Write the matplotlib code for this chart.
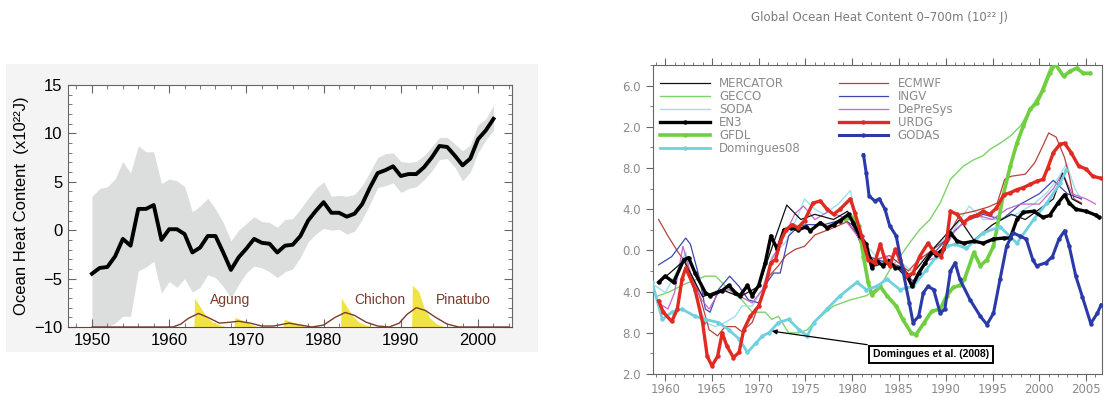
import numpy as np
import matplotlib
matplotlib.use("Agg")
import matplotlib.pyplot as plt
from matplotlib.patches import Rectangle
from matplotlib.ticker import MultipleLocator

# ---------------- left panel: annual ocean heat content ----------------
ohc_years = np.arange(1950, 2003)
ohc_vals = [-4.5, -3.9, -3.8, -2.7, -0.9, -1.6, 2.2, 2.2, 2.6, -1.0,
            0.1, 0.1, -0.4, -2.3, -1.8, -0.6, -0.6, -2.3, -4.1, -2.8,
            -1.9, -0.9, -1.3, -1.4, -2.3, -1.6, -1.5, -0.6, 1.0, 2.0,
            2.9, 1.8, 1.8, 1.4, 1.7, 2.7, 4.4, 5.9, 6.2, 6.6,
            5.6, 5.8, 5.8, 6.5, 7.5, 8.7, 8.6, 7.7, 6.7, 7.4,
            9.4, 10.3, 11.5]
ohc_upper = [3.5, 4.3, 4.5, 5.3, 7.1, 5.9, 8.7, 8.1, 8.1, 4.8,
             5.3, 5.1, 4.5, 1.9, 2.5, 3.3, 2.2, 0.8, -1.1, 0.0,
             0.7, 1.4, 0.9, 0.8, 0.3, 1.1, 1.2, 2.2, 3.3, 4.3,
             5.0, 3.5, 3.6, 3.5, 3.7, 4.6, 6.0, 7.5, 7.9, 8.0,
             7.1, 7.0, 7.1, 7.7, 8.6, 9.6, 9.6, 8.9, 8.2, 8.8,
             10.9, 11.5, 12.9]
ohc_lower = [-10.0, -10.0, -10.0, -9.6, -8.9, -8.9, -4.2, -3.8, -3.2, -6.5,
             -5.3, -5.9, -5.0, -6.4, -5.9, -4.6, -4.9, -5.8, -7.0, -5.6,
             -4.4, -3.7, -3.9, -4.3, -4.9, -4.3, -4.0, -2.8, -1.2, -0.4,
             0.2, 0.0, 0.1, -0.4, -0.1, 1.1, 2.7, 4.4, 4.6, 4.9,
             3.9, 4.3, 4.5, 5.2, 6.1, 7.3, 7.4, 6.5, 5.1, 6.0,
             8.0, 9.3, 10.3]

# volcanic aerosol spikes (yellow) and smoothed forcing (brown)
volc_years = [1950, 1963.2, 1963.3, 1964.0, 1964.8, 1965.6, 1966.6, 1967.5,
              1968.4, 1968.5, 1969.5, 1970.5, 1971.5,
              1974.8, 1974.9, 1976.0, 1977.0, 1978.0,
              1982.2, 1982.3, 1983.0, 1983.8, 1984.6, 1985.5, 1986.5,
              1991.4, 1991.5, 1992.3, 1993.0, 1993.8, 1994.7, 1995.8, 2004]
volc_vals = [-10, -10, -7.0, -7.9, -8.9, -9.5, -9.8, -10,
             -10, -9.0, -9.3, -9.7, -10,
             -10, -9.2, -9.5, -9.8, -10,
             -10, -7.0, -7.9, -8.9, -9.5, -9.8, -10,
             -10, -5.7, -6.3, -8.0, -9.1, -9.7, -10, -10]
smooth_years = [1950, 1960.5, 1961.5, 1962.5, 1963.8, 1965.0, 1966.5, 1968.0, 1969.0, 1970.5,
                1972.0, 1973.5, 1975.5, 1977.0, 1978.5, 1980.0, 1981.5, 1982.8, 1984.0, 1985.5,
                1987.0, 1988.5, 1989.8, 1990.8, 1992.0, 1993.2, 1994.5, 1996.0, 1997.5, 2004]
smooth_vals = [-10, -10, -9.7, -9.1, -8.6, -9.0, -9.6, -9.5, -9.4, -9.6,
               -9.9, -9.9, -9.6, -9.8, -10, -9.8, -9.0, -8.5, -8.8, -9.5,
               -9.9, -10, -9.6, -8.7, -8.0, -8.3, -9.0, -9.7, -10, -10]
volc_names = ["Agung", "Chichon", "Pinatubo"]
volc_label_x = [1967.9, 1987.3, 1998.1]

# ---------------- right panel: 0-700m OHC estimates ----------------
mercator_yrs = [1959.5, 1962.0, 1964.0, 1966.0, 1968.0, 1970.0, 1971.5, 1973.0, 1974.5, 1976.0,
                1978.0, 1979.5, 1981.0, 1982.5, 1984.0, 1986.0, 1988.0, 1990.0, 1991.5, 1993.0,
                1995.0, 1997.0, 1998.5, 2000.0, 2001.5, 2002.5, 2003.5, 2004.5]
mercator_val = [-3.0, -1.0, -4.5, -3.8, -4.5, -3.5, 0.5, 4.4, 3.0, 3.5,
                3.0, 3.8, 1.0, -1.5, -1.0, -2.8, -0.5, 1.5, 3.0, 1.0,
                2.5, 3.5, 3.0, 4.0, 5.0, 7.5, 5.0, 4.5]

gecco_yrs = [1959.0, 1960.5, 1962.0, 1964.3, 1965.4, 1966.8, 1968.2, 1969.3, 1970.7, 1971.4,
             1972.1, 1973.2, 1974.3, 1975.2, 1976.2, 1978.0, 1979.8, 1981.5, 1983.0, 1984.0,
             1985.1, 1986.2, 1987.2, 1988.3, 1989.4, 1990.5, 1991.9, 1993.0, 1994.0, 1994.7,
             1995.8, 1996.9, 1998.0, 1999.0, 2000.1, 2000.8, 2001.5]
gecco_val = [-4.5, -4.0, -3.3, -2.5, -2.5, -3.8, -4.8, -6.0, -6.0, -6.7,
             -6.4, -8.0, -8.0, -7.7, -6.7, -5.4, -4.8, -4.4, -3.5, -1.9,
             -0.6, 0.8, 2.0, 3.0, 4.6, 6.9, 8.2, 8.8, 9.2, 9.8,
             10.4, 11.1, 12.1, 13.7, 15.3, 16.9, 18.5]

soda_yrs = [1958.9, 1960.0, 1961.0, 1962.2, 1963.2, 1964.3, 1965.4, 1966.4, 1967.5, 1968.2,
            1969.3, 1970.4, 1971.4, 1972.9, 1974.3, 1974.9, 1976.0, 1977.0, 1978.5, 1979.8,
            1981.0, 1983.0, 1985.0, 1987.0, 1989.0, 1990.5, 1992.5, 1994.0, 1995.5, 1997.5,
            1999.4, 2000.8, 2002.0, 2002.9, 2003.8, 2004.5]
soda_val = [-3.4, -4.1, -2.5, -0.2, -4.4, -7.0, -7.4, -7.0, -6.4, -5.4,
            -5.4, -3.8, -0.6, 0.8, 3.6, 5.0, 4.0, 3.5, 4.5, 5.8,
            1.0, -1.0, -1.0, -2.5, 0.5, 1.5, 4.3, 3.0, 3.0, 3.5,
            4.5, 5.6, 7.0, 8.4, 6.0, 4.9]

en3_yrs = [1959.3, 1960.0, 1960.9, 1962.0, 1962.5, 1963.2, 1964.3, 1964.8, 1966.1, 1966.8,
           1967.5, 1968.0, 1968.8, 1969.3, 1970.0, 1970.7, 1971.3, 1972.0, 1972.7, 1973.5,
           1974.2, 1975.1, 1975.5, 1976.6, 1977.3, 1978.0, 1978.7, 1979.6, 1980.1, 1980.8,
           1981.5, 1982.1, 1982.6, 1983.3, 1983.9, 1984.6, 1985.3, 1985.8, 1986.4, 1987.1,
           1987.8, 1988.5, 1989.0, 1989.7, 1990.5, 1991.2, 1991.9, 1993.0, 1994.0, 1995.1,
           1996.2, 1996.9, 1997.6, 1998.3, 1999.4, 2000.4, 2001.1, 2002.0, 2002.7, 2003.2,
           2003.9, 2005.0, 2006.1, 2006.4]
en3_val = [-3.1, -2.5, -3.1, -0.9, -0.7, -2.2, -4.1, -4.4, -3.9, -3.4,
           -4.1, -4.4, -3.4, -4.4, -3.4, -1.2, 1.4, 0.1, 2.0, 2.2,
           2.0, 2.3, 1.9, 2.7, 2.2, 2.5, 2.9, 3.5, 2.7, 1.4,
           0.6, -1.7, -1.0, -1.5, -1.0, -1.7, -1.7, -2.3, -3.5, -2.2,
           -1.2, -0.2, -0.4, 0.1, 1.7, 0.9, 0.7, 0.9, 0.7, 1.1,
           1.2, 1.2, 3.0, 3.7, 3.8, 3.2, 3.4, 4.6, 5.4, 4.6,
           4.0, 3.8, 3.4, 3.2]

gfdl_yrs = [1978.7, 1980.1, 1980.7, 1981.2, 1981.7, 1982.1, 1983.0, 1983.7, 1984.7, 1985.4,
            1986.3, 1986.8, 1987.7, 1988.5, 1989.4, 1990.1, 1990.8, 1991.5, 1992.0, 1993.0,
            1993.7, 1994.4, 1995.1, 1996.2, 1996.9, 1997.6, 1998.3, 1999.0, 1999.7, 2000.4,
            2001.1, 2001.7, 2002.6, 2003.3, 2004.0, 2004.7, 2005.4]
gfdl_val = [2.9, 3.2, 2.4, -0.6, -3.1, -4.3, -3.5, -4.4, -5.4, -6.7,
            -8.0, -8.2, -7.0, -5.9, -5.7, -4.4, -3.6, -3.4, -2.8, -0.2,
            -1.5, -0.9, 0.4, 5.6, 8.2, 10.4, 12.1, 13.7, 14.3, 15.6,
            17.2, 18.1, 16.9, 17.4, 17.7, 17.2, 17.2]

dom_yrs = [1958.6, 1959.7, 1960.7, 1961.8, 1963.2, 1964.3, 1965.7, 1966.8, 1967.9, 1968.8,
           1969.7, 1970.4, 1971.1, 1972.1, 1973.2, 1974.3, 1975.2, 1975.9, 1977.3, 1978.7,
           1980.5, 1981.5, 1982.6, 1983.7, 1985.1, 1986.5, 1987.9, 1989.0, 1990.1, 1991.0,
           1992.2, 1994.0, 1995.8, 1997.6, 1999.4, 2000.8, 2002.2, 2002.9]
dom_val = [-3.1, -6.7, -6.0, -5.7, -6.4, -6.7, -7.0, -7.7, -8.6, -9.9,
           -9.0, -8.3, -8.0, -7.0, -6.7, -7.7, -8.3, -7.0, -5.7, -4.4,
           -3.1, -3.8, -3.5, -2.8, -3.8, -3.5, -1.9, -0.6, 0.4, 0.6,
           0.2, 1.7, 2.3, 0.7, 3.0, 4.6, 6.5, 7.8]

ecmwf_yrs = [1959.3, 1960.3, 1961.4, 1962.2, 1963.2, 1964.0, 1964.7, 1965.6, 1966.4, 1967.5,
             1968.2, 1969.3, 1970.4, 1971.1, 1972.1, 1972.9, 1973.9, 1974.9, 1976.0, 1978.0,
             1979.5, 1980.5, 1982.0, 1984.0, 1986.0, 1987.0, 1988.5, 1990.0, 1991.5, 1993.0,
             1994.5, 1995.5, 1996.3, 1997.0, 1998.5, 1999.5, 2000.3, 2001.0, 2001.8, 2002.7,
             2003.2, 2003.7, 2004.5]
ecmwf_val = [3.0, 1.4, -0.2, -1.2, -3.1, -5.4, -7.7, -8.3, -7.4, -7.4,
             -7.9, -7.0, -4.4, -2.5, -1.5, -0.5, 0.1, 0.4, 1.5, 2.2,
             2.8, 1.5, -1.0, -0.5, -2.0, -1.0, 0.0, 1.0, 3.5, 3.8,
             4.2, 4.6, 6.9, 7.2, 7.4, 8.5, 10.0, 11.4, 11.0, 9.0,
             7.2, 5.0, 4.6]

ingv_yrs = [1959.3, 1960.7, 1962.2, 1962.7, 1963.7, 1964.3, 1964.8, 1965.7, 1966.9, 1967.9,
            1968.9, 1970.0, 1970.9, 1971.6, 1972.3, 1973.2, 1974.3, 1975.2, 1977.0, 1979.0,
            1980.0, 1981.5, 1983.0, 1985.0, 1986.5, 1988.0, 1990.0, 1992.0, 1994.0, 1996.0,
            1998.0, 2000.0, 2001.5, 2003.0, 2004.5]
ingv_val = [-1.4, -0.6, 1.2, 0.6, -2.8, -5.7, -6.0, -3.8, -2.5, -3.5,
            -4.8, -5.1, -3.1, -2.2, -2.2, 1.4, 2.4, 2.5, 2.5, 3.0,
            2.5, -0.5, -1.0, -1.5, -3.0, -1.0, 1.0, 2.8, 3.5, 3.0,
            4.5, 5.5, 6.8, 5.5, 5.0]

depresys_yrs = [1959.3, 1960.3, 1961.0, 1961.9, 1962.8, 1963.9, 1964.7, 1965.7, 1966.8, 1967.9,
                1969.3, 1970.4, 1971.4, 1972.9, 1973.9, 1974.8, 1976.0, 1977.5, 1979.0, 1980.5,
                1982.0, 1983.5, 1985.0, 1986.5, 1988.0, 1989.5, 1991.0, 1993.0, 1995.0, 1996.5,
                1998.0, 2000.0, 2001.5, 2002.5, 2003.5, 2005.0, 2006.0]
depresys_val = [-5.1, -5.7, -4.1, 0.4, -2.5, -4.8, -5.7, -4.1, -3.8, -4.4,
                -5.1, -3.8, -0.9, 1.7, 3.6, 4.3, 3.0, 3.8, 3.2, 1.5,
                -1.5, -0.5, -1.8, -3.5, -1.0, -0.5, 2.0, 3.5, 3.0, 4.0,
                4.5, 4.5, 6.0, 7.5, 5.5, 5.0, 4.5]

urdg_yrs = [1959.3, 1959.8, 1960.7, 1961.3, 1961.8, 1962.2, 1963.2, 1964.0, 1964.5, 1965.0,
            1965.6, 1966.1, 1966.6, 1967.3, 1967.9, 1968.4, 1969.1, 1970.0, 1970.7, 1971.3,
            1971.8, 1972.3, 1972.9, 1973.6, 1974.2, 1974.9, 1975.8, 1976.6, 1977.3, 1978.0,
            1978.7, 1979.8, 1980.3, 1981.0, 1981.7, 1982.4, 1983.0, 1983.5, 1984.0, 1984.6,
            1985.1, 1985.8, 1986.5, 1987.2, 1988.1, 1988.8, 1989.5, 1990.1, 1990.5, 1991.2,
            1991.9, 1992.6, 1993.3, 1994.0, 1994.7, 1995.4, 1996.2, 1996.9, 1997.6, 1998.3,
            1999.0, 1999.7, 2000.4, 2000.9, 2001.5, 2002.2, 2002.7, 2003.4, 2004.2, 2005.0,
            2005.7, 2006.6]
urdg_val = [-4.9, -6.0, -6.9, -5.7, -2.8, -1.7, -3.8, -7.0, -10.3, -11.2,
            -10.3, -8.0, -9.3, -10.4, -9.9, -7.7, -6.4, -5.4, -3.5, -1.2,
            -0.9, 0.8, 2.0, 2.5, 2.2, 2.9, 4.6, 4.8, 4.0, 3.5,
            4.0, 5.0, 3.6, 1.4, -0.9, -1.2, 0.6, -0.9, -1.5, 0.1,
            -0.9, -2.5, -2.2, -0.6, 0.7, -0.2, -0.6, 1.1, 3.8, 3.5,
            2.7, 3.2, 3.4, 3.8, 3.5, 4.1, 5.4, 5.6, 5.9, 6.1,
            6.4, 6.7, 6.9, 8.0, 9.5, 10.3, 10.4, 9.5, 8.2, 7.9,
            7.2, 7.0]

godas_yrs = [1981.2, 1981.5, 1981.8, 1982.4, 1982.9, 1983.5, 1984.0, 1984.7, 1985.4, 1986.1,
             1986.5, 1987.1, 1987.6, 1988.1, 1988.7, 1989.4, 1989.9, 1990.5, 1991.0, 1991.5,
             1992.6, 1993.7, 1994.4, 1995.1, 1995.8, 1996.5, 1997.2, 1997.9, 1998.6, 1999.3,
             1999.7, 2000.7, 2001.4, 2002.1, 2002.7, 2003.2, 2003.9, 2004.6, 2005.5, 2006.2,
             2006.6]
godas_val = [9.3, 7.5, 5.3, 4.8, 5.0, 4.0, 2.4, 1.4, -1.9, -5.1,
             -7.0, -6.4, -4.1, -3.5, -3.8, -6.1, -5.7, -2.0, -1.2, -2.8,
             -4.8, -6.4, -7.2, -6.1, -2.8, 0.4, 1.7, 1.4, 1.1, -0.9,
             -1.5, -1.2, -0.6, 1.1, 1.9, 0.4, -2.5, -4.5, -7.1, -6.1,
             -5.3]

r_ytick_vals = [-12, -8, -4, 0, 4, 8, 12, 16]
r_ytick_text = ["2.0", "8.0", "4.0", "0.0", "4.0", "8.0", "2.0", "6.0"]

# estilo: (label, anos, valores, cor, largura, marcador)
SERIES = [
    ("MERCATOR", mercator_yrs, mercator_val, "#111111", 0.9, None),
    ("GECCO", gecco_yrs, gecco_val, "#7dd36a", 1.0, None),
    ("SODA", soda_yrs, soda_val, "#9fe0ea", 1.0, None),
    ("EN3", en3_yrs, en3_val, "#000000", 2.4, "o"),
    ("GFDL", gfdl_yrs, gfdl_val, "#6fcf3f", 2.6, "o"),
    ("Domingues08", dom_yrs, dom_val, "#6fd0e0", 2.0, "o"),
    ("ECMWF", ecmwf_yrs, ecmwf_val, "#b8423a", 0.9, None),
    ("INGV", ingv_yrs, ingv_val, "#3f48b0", 0.9, None),
    ("DePreSys", depresys_yrs, depresys_val, "#c765c8", 0.9, None),
    ("URDG", urdg_yrs, urdg_val, "#e02a22", 2.4, "o"),
    ("GODAS", godas_yrs, godas_val, "#2a3aa8", 2.2, "o"),
]
ZORDER = {"MERCATOR": 3, "GECCO": 2, "SODA": 2, "ECMWF": 2, "INGV": 2, "DePreSys": 2,
          "GFDL": 4, "Domingues08": 4, "EN3": 5, "URDG": 6, "GODAS": 6}

W, H = 1105, 396
fig = plt.figure(figsize=(W / 100, H / 100), dpi=100)

# fundo cinza do painel esquerdo (atras dos eixos)
fig.patches.append(Rectangle((6 / W, 1 - 352 / H), 532 / W, 288 / H,
                             transform=fig.transFigure, facecolor="#f4f4f4",
                             edgecolor="none", zorder=-5))

# ================= painel esquerdo =================
ax1 = fig.add_axes([68 / W, 1 - 327 / H, 444 / W, 242 / H])
ax1.set_zorder(2)
ax1.fill_between(ohc_years, ohc_lower, ohc_upper, color="#dcdddd", lw=0)
ax1.fill_between(volc_years, -10, volc_vals, color="#f0e442", lw=0, zorder=2)
ax1.plot(smooth_years, smooth_vals, color="#7b3b2b", lw=1.0, zorder=3)
ax1.plot(ohc_years, ohc_vals, color="black", lw=2.8, zorder=4)
for nome, xl in zip(volc_names, volc_label_x):
    ax1.text(xl, -7.2, nome, color="#7b3b2b", fontsize=10, ha="center", va="center",
             family="Liberation Sans")

ax1.set_xlim(1946.9, 2004.4)
ax1.set_ylim(-10, 15)
ax1.xaxis.set_major_locator(MultipleLocator(10))
ax1.xaxis.set_minor_locator(MultipleLocator(2))
ax1.yaxis.set_major_locator(MultipleLocator(5))
ax1.yaxis.set_minor_locator(MultipleLocator(1))
ax1.tick_params(which="both", direction="in", top=True, right=True, color="#666666")
ax1.tick_params(which="major", length=6, labelsize=12, pad=4)
ax1.tick_params(which="minor", length=3)
for lab in ax1.get_xticklabels() + ax1.get_yticklabels():
    lab.set_family("Liberation Sans")
for sp in ax1.spines.values():
    sp.set_color("#666666")
ax1.spines["bottom"].set_color("#7b3b2b")
ax1.set_ylabel("Ocean Heat Content  (x10²²J)", fontsize=12, family="Liberation Sans",
               labelpad=4)

# ================= painel direito =================
ax2 = fig.add_axes([653 / W, 1 - 374 / H, 449 / W, 309 / H])
for nome, xs, ys, cor, lw, mk in SERIES:
    ax2.plot(xs, ys, color=cor, lw=lw, marker=mk, markersize=2.2 if mk else 0,
             label=nome, zorder=ZORDER[nome])

ax2.set_xlim(1958.7, 2006.7)
ax2.set_ylim(-12, 18)
ax2.set_yticks(r_ytick_vals)
ax2.set_yticklabels(r_ytick_text)
ax2.xaxis.set_major_locator(MultipleLocator(5))
ax2.xaxis.set_minor_locator(MultipleLocator(1))
ax2.yaxis.set_minor_locator(MultipleLocator(2))
ax2.tick_params(which="both", direction="out", top=True, right=False, color="#666666",
                labelcolor="#8a8a8a", labelsize=8.5)
ax2.tick_params(which="major", length=5)
ax2.tick_params(which="minor", length=2.5)
ax2.tick_params(axis="x", pad=1.5)
for sp in ax2.spines.values():
    sp.set_color("#666666")
    sp.set_linewidth(0.8)

leg = ax2.legend(loc="upper left", bbox_to_anchor=(0.0, 0.985), ncol=2, frameon=False,
                 fontsize=8.5, labelspacing=0.0, handlelength=4.2, handletextpad=0.8,
                 columnspacing=3.2, borderaxespad=0.2)
for t in leg.get_texts():
    t.set_color("#8a8a8a")

ax2.annotate("Domingues et al. (2008)", xy=(1971.1, -7.8), xytext=(1988.4, -10.1),
             ha="center", va="center", fontsize=7.5, fontweight="bold",
             family="Liberation Sans", zorder=8,
             bbox=dict(boxstyle="square,pad=0.35", fc="white", ec="black", lw=1.4),
             arrowprops=dict(arrowstyle="-|>", color="black", lw=0.9,
                             mutation_scale=7, relpos=(0.24, 1.0)))

fig.text(880 / W, 1 - 17 / H, "Global Ocean Heat Content 0\u2013700m (10²² J)",
         ha="center", va="center", fontsize=8.5, color="#7a7a7a")

fig.savefig("out.png", dpi=100)
